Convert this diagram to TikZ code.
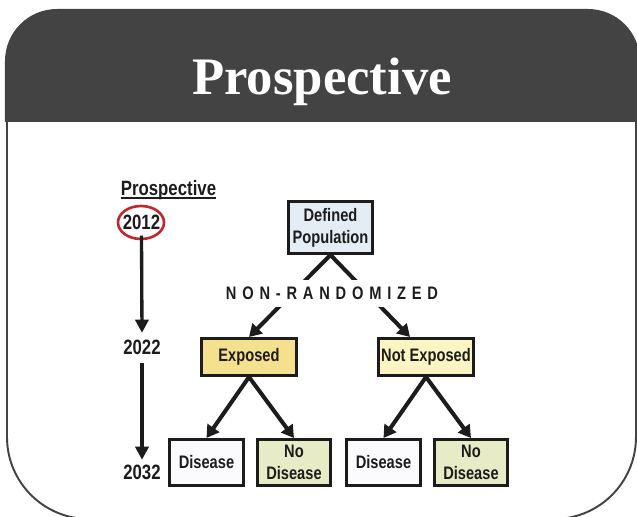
\documentclass[tikz,border=0pt]{standalone}
\usepackage{fontspec}
\setmainfont{Liberation Serif}
\newfontfamily\narrowsans[FakeStretch=0.81]{Liberation Sans}
\newfontfamily\spacedsans[FakeStretch=0.81,LetterSpace=32]{Liberation Sans}
\usepackage{xcolor}
\usepackage{tikz}
\usetikzlibrary{arrows.meta,positioning,calc,shapes.geometric}
\definecolor{hdrgray}{HTML}{434343}
\definecolor{ink}{HTML}{1C1C1C}
\definecolor{ringred}{HTML}{C0282E}
\definecolor{popblue}{HTML}{E4EDF5}
\definecolor{expyellow}{HTML}{F5E08E}
\definecolor{nexpyellow}{HTML}{FBF5C4}
\definecolor{nodisgreen}{HTML}{E8ECC6}
\definecolor{diswhite}{HTML}{FBFAFC}
\newcommand{\thickul}[1]{\setbox0\hbox{#1}\rlap{\rule[-1.6pt]{\wd0}{1pt}}\box0}

\begin{document}
\begin{tikzpicture}[
  x=0.02cm, y=-0.02cm,
  font=\narrowsans\bfseries\fontsize{10.3}{12.5}\selectfont,
  box/.style={draw=ink, line width=1.7pt, text=ink, align=center, inner sep=1pt},
  expcell/.style={box, minimum width=1.9cm, minimum height=0.74cm},
  outcell/.style={box, minimum width=1.48cm, minimum height=0.92cm},
  yearlab/.style={text=ink, inner sep=0pt, font=\narrowsans\bfseries\fontsize{11.8}{14}\selectfont},
  conn/.style={draw=ink, line width=2.3pt, -{Triangle[length=7pt,width=8pt]}},
  timeconn/.style={draw=ink, line width=1.9pt, -{Triangle[length=7.5pt,width=7.5pt]}}
]
\useasboundingbox (0,0) rectangle (637,517);
\clip (0,0) rectangle (637,517);
\fill[hdrgray, rounded corners=1.04cm] (5,122) -- (5,9) -- (640,9) -- (640,122);
\node[text=white, anchor=base, font=\bfseries\fontsize{30}{36}\selectfont] (title) at (322,95) {Prospective};
\draw[hdrgray, line width=1.1pt, rounded corners=1.64cm] (7,122) -- (7,519) -- (636,519) -- (636,122);

\node[yearlab, anchor=base] (plab) at (168.5,196) {\thickul{Prospective}};
\node[yearlab] (y2012) at (141.5,222.5) {2012};
\node[draw=ringred, line width=1.5pt, ellipse, minimum width=0.92cm, minimum height=0.66cm, inner sep=0pt] (ring) at (141,222.5) {};
\node[yearlab] (y2022) at (142,347.5) {2022};
\node[yearlab] (y2032) at (142,472.5) {2032};
\draw[timeconn] ([yshift=-0.11cm]y2012.south) -- ([yshift=0.14cm]y2022.north);
\draw[timeconn] ([yshift=-0.16cm]y2022.south) -- ([yshift=0.1cm]y2032.north);

\node[box, fill=popblue, minimum width=1.68cm, minimum height=1.04cm] (pop) at (330.5,227.5) {Defined\\Population};
\node[expcell, fill=expyellow] (exp) at (249,357) {Exposed};
\node[expcell, fill=nexpyellow] (nexp) at (426,357) {Not Exposed};
\foreach \t/\x/\c [count=\i] in {Disease/206.5/diswhite, {No\\Disease}/294/nodisgreen, Disease/383.5/diswhite, {No\\Disease}/471/nodisgreen} {
  \node[outcell, fill=\c] (o\i) at (\x,462.5) {\t};
}
\draw[conn] (pop.south) -- (exp.north);
\draw[conn] (pop.south) -- ($(nexp.north)+(-16,0)$);
\node[fill=white, text=ink, inner xsep=2pt, inner ysep=0.15cm, font=\spacedsans\bfseries\fontsize{10.3}{12}\selectfont] (nonrand) at (332,293.5) {NON-RANDOMIZED};
\foreach \a/\b in {exp/o1,exp/o2,nexp/o3,nexp/o4} {
  \draw[conn] (\a.south) -- (\b.north);
}
\end{tikzpicture}
\end{document}
